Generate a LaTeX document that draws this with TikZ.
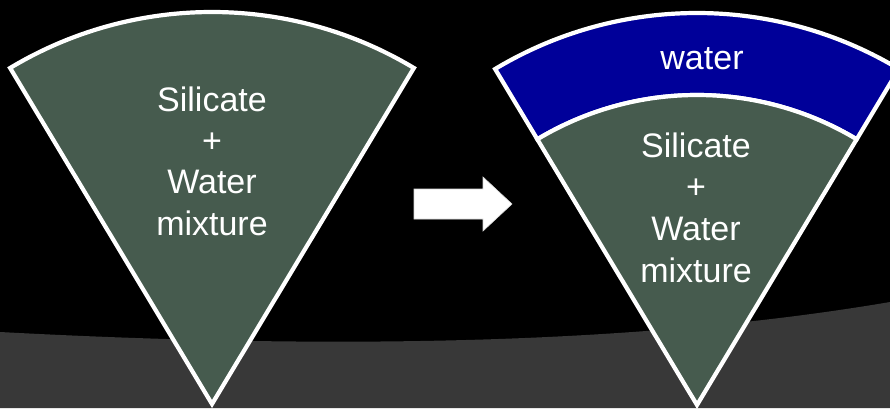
\documentclass[tikz,border=0pt]{standalone}
\usepackage{fontspec}
\setmainfont{Liberation Sans}
\usetikzlibrary{calc}
\definecolor{wedgegreen}{HTML}{465B4E}
\definecolor{waterblue}{HTML}{000099}
\definecolor{floorgrey}{HTML}{383838}
\begin{document}
\begin{tikzpicture}[x=1pt,y=1pt,
  wedge/.style={fill=wedgegreen, draw=white, line width=4.2pt, line join=miter},
  band/.style={fill=waterblue, draw=white, line width=4.2pt, line join=miter},
  label/.style={text=white, font=\fontsize{34}{41}\selectfont, anchor=base, inner sep=0pt},
  pointer/.style={fill=white, draw=white!85!black, line width=0.6pt}]
  % canvas
  \fill[black] (0,0) rectangle (890,408);
  \clip (0,0) rectangle (890,408);
  \fill[floorgrey] (0,0) -- (0,76) .. controls (300,60) and (620,60) .. (890,106) -- (890,0) -- cycle;

  % left sector: mixture only
  \coordinate (apexL) at (212,4);
  \draw[wedge] (apexL) -- ++(59:392) arc[start angle=59, end angle=121, radius=392] -- cycle;
  \node[label] (l1) at (212,297) {Silicate};
  \node[label] (l2) at (212,256) {+};
  \node[label] (l3) at (212,215) {Water};
  \node[label] (l4) at (212,173) {mixture};

  % arrow between the two states
  \fill[pointer] (414,219) -- (483,219) -- (483,231) -- (512,204) -- (483,177) -- (483,189) -- (414,189) -- cycle;

  % right sector: separated water layer on top
  \coordinate (apexR) at (697,3);
  \draw[band] ($(apexR)+(59:310)$) arc[start angle=59, end angle=121, radius=310]
    -- ($(apexR)+(121:392)$) arc[start angle=121, end angle=59, radius=392] -- cycle;
  \draw[wedge] (apexR) -- ++(59:310) arc[start angle=59, end angle=121, radius=310] -- cycle;
  \node[label] (w1) at (702,338) {water};
  \node[label] (r1) at (696,251) {Silicate};
  \node[label] (r2) at (696,209.3) {+};
  \node[label] (r3) at (696,167.7) {Water};
  \node[label] (r4) at (696,126) {mixture};
\end{tikzpicture}
\end{document}
